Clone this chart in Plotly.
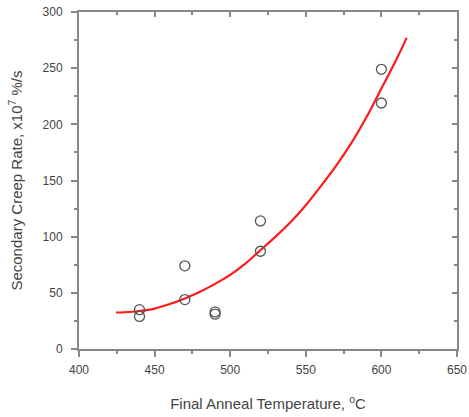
import plotly.graph_objects as go

temp_pts = [440, 440, 470, 470, 490, 490, 520, 520, 600, 600]
rate_pts = [35, 29, 44, 74, 33, 31, 87, 114, 249, 219]

fit_temp = [424.5, 430, 440, 450, 460, 470, 480, 490, 500, 510, 520, 530, 540, 550, 560, 570, 580, 590, 600, 610, 616.7]
fit_rate = [32.5, 32.7, 33.8, 36, 40, 45, 51, 58, 66, 76, 88, 100, 113, 128, 145, 163, 183, 206, 232, 258, 277]

x_ticks = [400, 450, 500, 550, 600, 650]
y_ticks = [0, 50, 100, 150, 200, 250, 300]
x_range = [400, 650]
y_range = [0, 300]

FONT = "Liberation Sans, Arial"
TXT = "#444444"
AX = "#888888"

fig = go.Figure()
fig.add_trace(go.Scatter(x=fit_temp, y=fit_rate, mode="lines",
                         line=dict(color="#ff1a1a", width=2.2, shape="spline"),
                         showlegend=False, hoverinfo="skip"))
fig.add_trace(go.Scatter(x=temp_pts, y=rate_pts, mode="markers",
                         marker=dict(symbol="circle-open", size=10, color="#555555",
                                     line=dict(width=1.3, color="#555555")),
                         showlegend=False))
# empty trace to show the mirror (top/right) axes with inward ticks
fig.add_trace(go.Scatter(x=[], y=[], xaxis="x2", yaxis="y2", showlegend=False))

common = dict(showline=True, linecolor=AX, linewidth=2, showgrid=False, zeroline=False,
              automargin=False, tickcolor=AX, tickwidth=1.5)

fig.update_layout(
    width=469, height=417, margin=dict(l=79, r=12, t=12, b=68),
    plot_bgcolor="white", paper_bgcolor="white",
    xaxis=dict(range=x_range, tickvals=x_ticks, ticks="outside", ticklen=6,
               ticklabelstandoff=3,
               minor=dict(ticks="outside", ticklen=3, dtick=25, tickcolor=AX),
               tickfont=dict(family=FONT, size=12, color=TXT),
               title=dict(text="Final Anneal Temperature, <sup>o</sup>C",
                          font=dict(family=FONT, size=15, color=TXT), standoff=22),
               **common),
    yaxis=dict(range=y_range, tickvals=y_ticks, ticks="outside", ticklen=6,
               ticklabelstandoff=6,
               minor=dict(ticks="outside", ticklen=3, dtick=25, tickcolor=AX),
               tickfont=dict(family=FONT, size=12, color=TXT),
               title=dict(text="Secondary Creep Rate, x10<sup>7</sup> %/s",
                          font=dict(family=FONT, size=15, color=TXT), standoff=16),
               **common),
    xaxis2=dict(range=x_range, tickvals=x_ticks, overlaying="x", side="top", anchor="y",
                ticks="inside", ticklen=5, showticklabels=False,
                minor=dict(ticks="inside", ticklen=3, dtick=25, tickcolor=AX), **common),
    yaxis2=dict(range=y_range, tickvals=y_ticks, overlaying="y", side="right", anchor="x",
                ticks="inside", ticklen=5, showticklabels=False,
                minor=dict(ticks="inside", ticklen=3, dtick=25, tickcolor=AX), **common),
)
fig.write_html("out.html")
